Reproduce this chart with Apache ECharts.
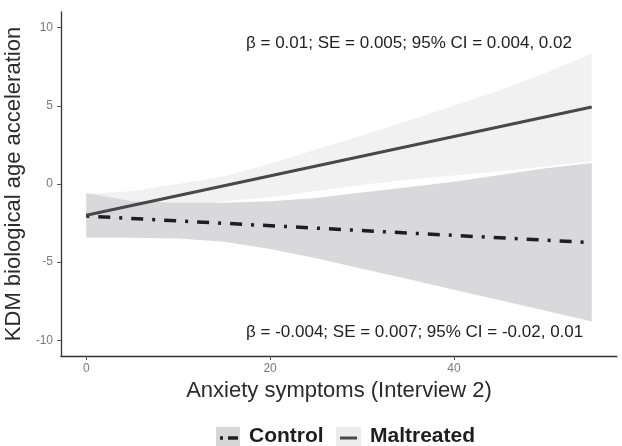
<!DOCTYPE html>
<html>
<head>
<meta charset="utf-8">
<script src="https://cdn.jsdelivr.net/npm/echarts@6/dist/echarts.min.js"></script>
<style>html,body{margin:0;padding:0;background:#fff}#c{width:622px;height:446px}</style>
</head>
<body>
<div id="c"></div>
<script>
// ---- data ----
const bandX = [0, 5, 10, 15, 20, 25, 30, 35, 40, 45, 50, 55];
const controlUpper = [-0.57, -1.1, -1.2, -1.2, -1.1, -0.9, -0.55, -0.2, 0.15, 0.57, 1.0, 1.34];
const controlLower = [-3.44, -3.44, -3.48, -3.7, -4.15, -4.75, -5.42, -6.08, -6.76, -7.43, -8.1, -8.8];
const maltUpper = [-0.65, -0.45, 0.0, 0.5, 1.3, 2.2, 3.1, 4.05, 5.0, 6.0, 7.1, 8.35];
const maltLower = [-3.3, -2.4, -1.6, -1.1, -0.85, -0.45, -0.05, 0.28, 0.55, 0.82, 1.12, 1.45];
const lineX = [0, 55];
const controlFit = [-2.05, -3.75];
const maltFit = [-2.0, 4.92];
const xTicks = [0, 20, 40];
const yTicks = [-10, -5, 0, 5, 10];
const legendNames = ['Control', 'Maltreated'];
const annTop = 'β = 0.01; SE = 0.005; 95% CI = 0.004, 0.02';
const annBottom = 'β = -0.004; SE = 0.007; 95% CI = -0.02, 0.01';
const xTitle = 'Anxiety symptoms (Interview 2)';
const yTitle = 'KDM biological age acceleration';

const FONT = '"Liberation Sans", Arial, Helvetica, sans-serif';

function bandSeries(name, lower, upper, fill) {
  return {
    name: name,
    type: 'custom',
    coordinateSystem: 'cartesian2d',
    silent: true,
    data: bandX.map((x, i) => [x, lower[i], upper[i]]),
    encode: { x: 0, y: [1, 2] },
    renderItem: function (params, api) {
      if (params.dataIndex !== 0) return null;
      const pts = [];
      for (let i = 0; i < bandX.length; i++) pts.push(api.coord([bandX[i], upper[i]]));
      for (let i = bandX.length - 1; i >= 0; i--) pts.push(api.coord([bandX[i], lower[i]]));
      return { type: 'polygon', shape: { points: pts }, style: { fill: fill, stroke: null } };
    }
  };
}

const chart = echarts.init(document.getElementById('c'), null, { renderer: 'canvas' });
chart.setOption({
  animation: false,
  backgroundColor: '#ffffff',
  grid: { left: 61, right: 5, top: 12, bottom: 90, containLabel: false, outerBoundsMode: 'none' },
  xAxis: {
    type: 'value', min: -2.75, max: 57.75,
    axisLine: { show: true, onZero: false, lineStyle: { color: '#333', width: 1.3 } },
    axisTick: { show: true, customValues: xTicks, length: 4, lineStyle: { color: '#555', width: 1 } },
    axisLabel: { customValues: xTicks, color: '#7a7a7a', fontSize: 12, fontFamily: FONT, margin: 7 },
    splitLine: { show: false },
    name: xTitle, nameLocation: 'middle', nameGap: 22,
    nameTextStyle: { fontSize: 22, color: '#2b2b2b', fontFamily: FONT }
  },
  yAxis: {
    type: 'value', min: -11, max: 11,
    axisLine: { show: true, onZero: false, lineStyle: { color: '#333', width: 1.3 } },
    axisTick: { show: true, customValues: yTicks, length: 4, lineStyle: { color: '#555', width: 1 } },
    axisLabel: { customValues: yTicks, color: '#7a7a7a', fontSize: 12, fontFamily: FONT, margin: 8 },
    splitLine: { show: false },
    name: yTitle, nameLocation: 'middle', nameGap: 31,
    nameTextStyle: { fontSize: 22, color: '#2b2b2b', fontFamily: FONT }
  },
  series: [
    bandSeries('Maltreated band', maltLower, maltUpper, '#f1f1f1'),
    bandSeries('Control band', controlLower, controlUpper, '#d9d9db'),
    {
      name: 'Control', type: 'line', showSymbol: false, silent: true,
      data: lineX.map((x, i) => [x, controlFit[i]]),
      lineStyle: { color: '#1e1e1e', width: 3.5, type: [3, 9, 12, 9], cap: 'butt' }
    },
    {
      name: 'Maltreated', type: 'line', showSymbol: false, silent: true,
      data: lineX.map((x, i) => [x, maltFit[i]]),
      lineStyle: { color: '#484848', width: 3, type: 'solid' }
    }
  ],
  graphic: [
    { type: 'text', left: 246, top: 35, style: { text: annTop, font: '17px ' + FONT, fill: '#222' } },
    { type: 'text', left: 246, top: 324, style: { text: annBottom, font: '17px ' + FONT, fill: '#222' } },
    // legend
    { type: 'rect', shape: { x: 216, y: 427, width: 24, height: 22 }, style: { fill: '#d6d6d6' } },
    { type: 'line', shape: { x1: 220, y1: 438, x2: 223, y2: 438 }, style: { stroke: '#1e1e1e', lineWidth: 3.5 } },
    { type: 'line', shape: { x1: 228, y1: 438, x2: 238, y2: 438 }, style: { stroke: '#1e1e1e', lineWidth: 3.5 } },
    { type: 'text', left: 249, top: 426, style: { text: legendNames[0], font: 'bold 21px ' + FONT, fill: '#1e1e1e' } },
    { type: 'rect', shape: { x: 336, y: 427, width: 25, height: 22 }, style: { fill: '#ececec' } },
    { type: 'line', shape: { x1: 340, y1: 438, x2: 357, y2: 438 }, style: { stroke: '#484848', lineWidth: 3 } },
    { type: 'text', left: 370, top: 426, style: { text: legendNames[1], font: 'bold 21px ' + FONT, fill: '#1e1e1e' } }
  ]
});
</script>
</body>
</html>
